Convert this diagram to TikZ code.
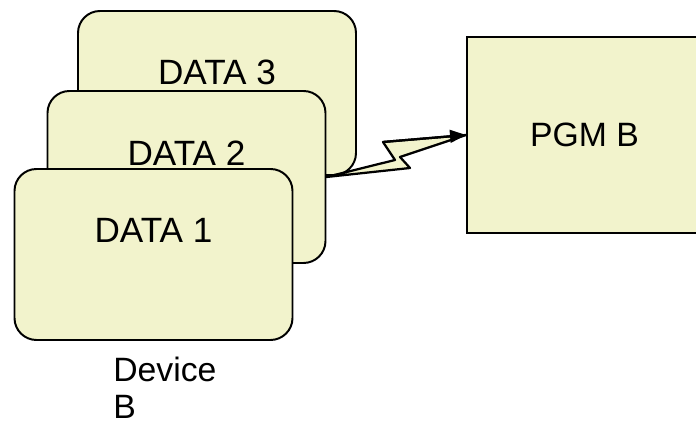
\documentclass[tikz,border=0pt]{standalone}
\usepackage{fontspec}
\setmainfont{Liberation Sans}
\usepackage{xcolor}
\usetikzlibrary{arrows.meta,calc,positioning}
\definecolor{boxfill}{RGB}{242,243,204}
\tikzset{
  databox/.style={draw,line width=1.4pt,fill=boxfill,rounded corners=0.55cm,minimum width=6.95cm,minimum height=4.2cm,inner sep=0},
  pgmbox/.style={draw,line width=1.4pt,fill=boxfill,minimum width=5.875cm,minimum height=4.9cm,inner sep=0},
  boxtext/.style={anchor=base,inner sep=0,font=\fontsize{25}{28}\selectfont},
  bolt/.style={draw,line width=1.6pt,fill=boxfill,line join=round}
}
\begin{document}
\begin{tikzpicture}
\useasboundingbox (0,0) rectangle (17.4,10.6);
\clip (0,0) rectangle (17.4,10.6);
% stacked data cards, back to front
\node[databox,minimum height=4.1cm] (d3) at (5.425,8.275) {};
\node[boxtext] (t3) at ([yshift=-1.85cm]d3.north) {DATA 3};
\node[databox,minimum height=4.3cm] (d2) at (4.6625,6.175) {};
\node[boxtext] (t2) at ([yshift=-1.875cm]d2.north) {DATA 2};
\node[databox,minimum height=4.275cm] (d1) at (3.8375,4.2375) {};
\node[boxtext] (t1) at ([yshift=-1.85cm]d1.north) {DATA 1};
\node[anchor=north west,inner sep=0,align=left,font=\fontsize{24}{26.3}\selectfont] (dev) at (2.825,1.675) {Device\\B};
% program box on the right
\node[pgmbox,font=\fontsize{24}{27}\selectfont] (pgm) at (14.6125,7.225) {PGM B};
% lightning link
\coordinate (z1) at (10.25,6.4); \coordinate (z2) at (10.0,6.675);
\coordinate (z3) at (9.575,7.05); \coordinate (z4) at (9.875,6.6);
\draw[bolt] (d2.east) -- (z1) -- (z2) -- (pgm.west) -- (z3) -- (z4) -- cycle;
\draw[-{Triangle[length=4mm,width=3.2mm]},line width=1.6pt] (z3) -- (pgm.west);
\end{tikzpicture}
\end{document}
